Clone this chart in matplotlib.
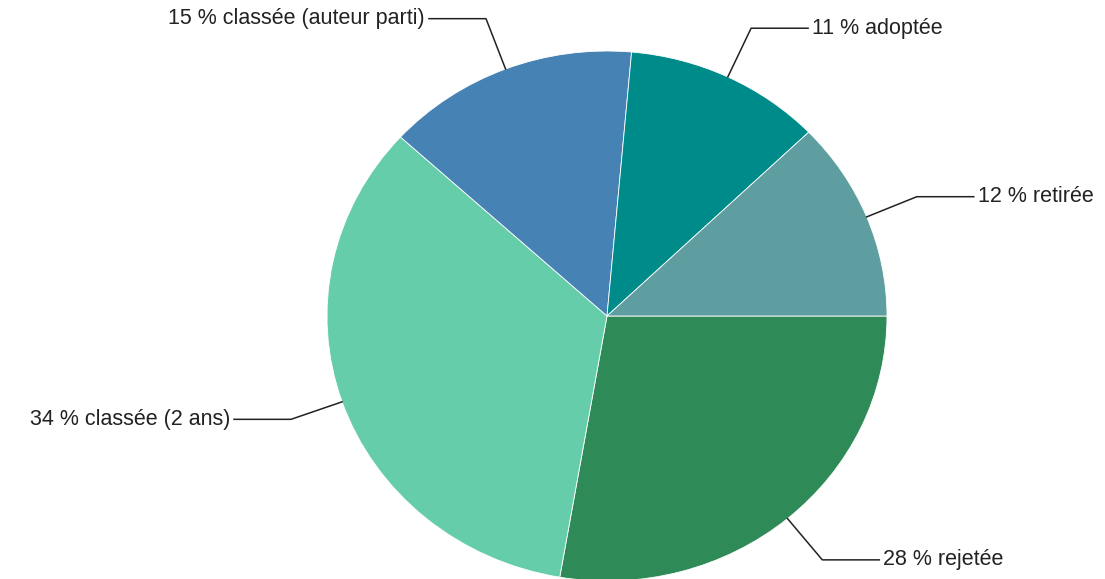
import numpy as np
import matplotlib.pyplot as plt

plt.rcParams['font.family'] = ['Liberation Sans', 'DejaVu Sans']

labels = ['rejetée', 'classée (2 ans)', 'classée (auteur parti)', 'adoptée', 'retirée']
# slice sizes, labels show the rounded value
shares = [27.7, 34.1, 14.6, 11.4, 12.2]
label_pcts = [28, 34, 15, 11, 12]
colors = ['#2E8B57', '#66CDAA', '#4682B4', '#008B8B', '#5F9EA0']

W, H = 1105, 579
fig = plt.figure(figsize=(W / 100, H / 100), dpi=100)
# pie is slightly stretched horizontally in the reference (rx 280px, ry 265px)
rx, ry = 280, 265
cx, cy = 607, 316
ax = fig.add_axes([(cx - rx) / W, (H - cy - ry) / H, 2 * rx / W, 2 * ry / H])

wedges, _ = ax.pie(shares, colors=colors, startangle=0, counterclock=False,
                   wedgeprops=dict(edgecolor='white', linewidth=0.6))
ax.set_aspect('auto')
ax.set_xlim(-1, 1)
ax.set_ylim(-1, 1)

for w, lab, p in zip(wedges, labels, label_pcts):
    a = np.deg2rad((w.theta1 + w.theta2) / 2)
    x0, y0 = np.cos(a), np.sin(a)
    # knee ~54px out from the edge, then a 57px horizontal run
    x1 = np.cos(a) * (1 + 54 / rx)
    y1 = np.sin(a) * (1 + 54 / ry)
    side = 1 if x0 >= 0 else -1
    x2 = x1 + side * 57 / rx
    ax.plot([x0, x1, x2], [y0, y1, y1], color='#222222', lw=1.1, clip_on=False)
    ax.text(x2 + side * 4 / rx, y1, f'{p} % {lab}', fontsize=15.5,
            ha='left' if side > 0 else 'right', va='center', color='#222222')

fig.savefig('out.png', dpi=100)
